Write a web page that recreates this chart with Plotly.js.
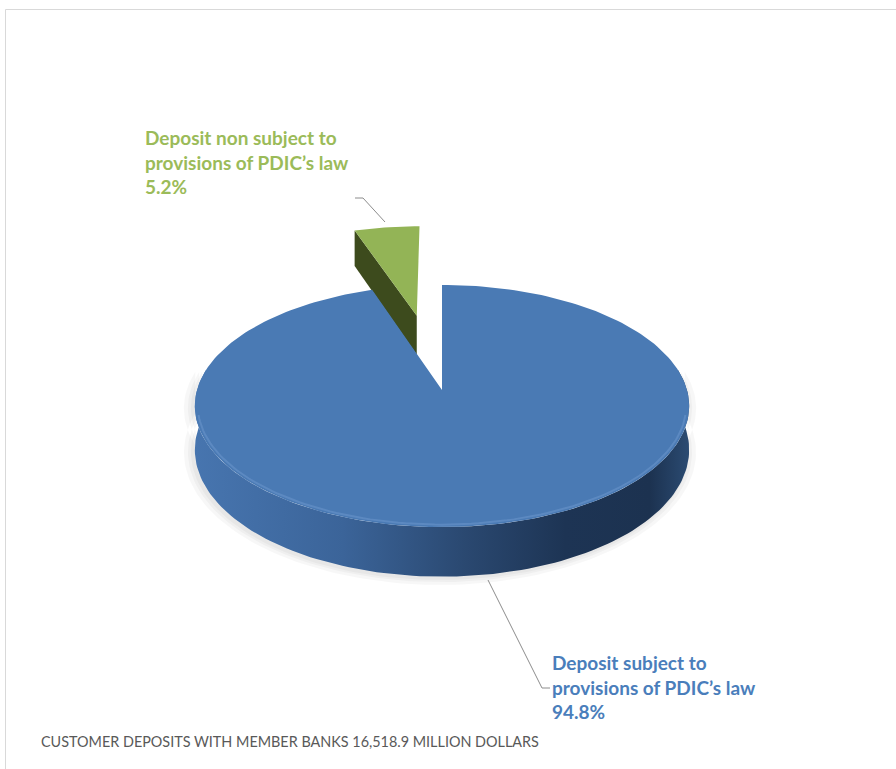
<!DOCTYPE html>
<html>
<head>
<meta charset="utf-8">
<script src="https://cdn.plot.ly/plotly-3.0.1.min.js"></script>
<style>html,body{margin:0;padding:0;background:#fff;}#chart{width:896px;height:769px;}</style>
</head>
<body>
<div id="chart"></div>
<script>
// ---- data ----
const categories = ["Deposit subject to provisions of PDIC’s law", "Deposit non subject to provisions of PDIC’s law"];
const labelLines = [["Deposit subject to", "provisions of PDIC’s law"], ["Deposit non subject to", "provisions of PDIC’s law"]];
const shares = [94.8, 5.2];
const footnote = "CUSTOMER DEPOSITS WITH MEMBER BANKS 16,518.9 MILLION DOLLARS";

// ---- styles / geometry ----
const topColors = ["#4a7ab4", "#93b456"];
const sideGradients = [
  [[0, "#4775af"], [0.3, "#3b6499"], [0.55, "#2a4870"], [0.75, "#1d3454"], [0.92, "#1c3250"], [1, "#2b4b72"]],
  [[0, "#3d4b1d"], [1, "#3d4b1d"]]
];
const G = {cx: 442, cy: 390, rx: 245, ry: 119, k: 0.132, depth: 43, explode: [0, 0.69]};

// perspective projection of a point in the pie plane (X right, Y toward viewer), dz = drop below top
function proj(X, Y, dz) {
  const p = 1 / (1 - G.k * Y);
  return [G.cx + G.rx * X * p, G.cy + (G.ry * Y + dz) * p];
}
function pt(theta, off, dz) {
  const t = theta * Math.PI / 180;
  return proj(off[0] + Math.sin(t), off[1] - Math.cos(t), dz);
}
function apex(off, dz) { return proj(off[0], off[1], dz); }
function arc(a0, a1, off, dz) {
  const pts = [];
  const n = Math.max(2, Math.ceil(Math.abs(a1 - a0) / 1.5));
  for (let i = 0; i <= n; i++) pts.push(pt(a0 + (a1 - a0) * i / n, off, dz));
  return pts;
}
function poly(pts, extra) {
  return Object.assign({
    type: "scatter", mode: "lines", x: pts.map(p => p[0]), y: pts.map(p => p[1]),
    fill: "toself", line: {width: 0}, hoverinfo: "skip", showlegend: false
  }, extra);
}

const total = shares.reduce((a, b) => a + b, 0);
const slices = [];
let acc = 0;
shares.forEach((v, i) => {
  const a0 = acc / total * 360, a1 = (acc + v) / total * 360;
  acc += v;
  const mid = (a0 + a1) / 2 * Math.PI / 180;
  const e = G.explode[i];
  slices.push({a0, a1, off: [e * Math.sin(mid), -e * Math.cos(mid)], i});
});

const traces = [];
const s0 = slices[0], s1 = slices[1];

// soft shadow below / left of the big slice
[9, 5, 2].forEach(g => {
  const up = arc(80, 280, s0.off, 0), lo = arc(280, 80, s0.off, G.depth);
  const c = apex(s0.off, G.depth / 2);
  const pts = up.concat(lo, [up[0]]).map(p => {
    const dx = p[0] - c[0], dy = p[1] - c[1], d = Math.hypot(dx, dy);
    return [p[0] + dx / d * g - 2, p[1] + Math.max(0, dy / d) * g * 0.7 + 2];
  });
  traces.push(poly(pts, {fillcolor: "rgba(0,0,0,0.03)"}));
});

// green (small, exploded) slice: its visible cut face then its top
{
  const A = apex(s1.off, 0), R = pt(s1.a0, s1.off, 0);
  const R2 = pt(s1.a0, s1.off, G.depth), A2 = apex(s1.off, G.depth);
  traces.push(poly([A, R, R2, A2, A], {fillcolor: sideGradients[1][0][1]}));
  const top = [A].concat(arc(s1.a0, s1.a1, s1.off, 0), [A]);
  traces.push(poly(top, {fillcolor: topColors[1], name: categories[1]}));
}
// blue slice: front side, then top
{
  const upper = arc(80, 280, s0.off, 0);
  const lower = arc(280, 80, s0.off, G.depth);
  traces.push(poly(upper.concat(lower, [upper[0]]),
    {fillcolor: "#2a4870", fillgradient: {type: "horizontal", colorscale: sideGradients[0]}}));
  const A = apex(s0.off, 0);
  const top = [A].concat(arc(s0.a0, s0.a1, s0.off, 0), [A]);
  traces.push(poly(top, {fillcolor: topColors[0], name: categories[0]}));
  // subtle bevel highlight on the front rim
  const rim = arc(102, 258, s0.off, 0).map(p => [G.cx + (p[0] - G.cx) * 0.988, G.cy + (p[1] - G.cy) * 0.982]);
  traces.push({type: "scatter", mode: "lines", x: rim.map(p => p[0]), y: rim.map(p => p[1]),
    line: {color: "rgba(125,165,218,0.35)", width: 2}, hoverinfo: "skip", showlegend: false});
}

const pctText = shares.map(v => v.toFixed(1) + "%");
const labelColors = ["#4a7ebb", "#9bbb59"];
const labelFont = "Lato, 'Open Sans', sans-serif";

const annotations = [
  {x: 143, y: 124, xref: "x", yref: "y", xanchor: "left", yanchor: "top", align: "left", showarrow: false,
   text: "<b>" + labelLines[1].concat([pctText[1]]).join("<br>") + "</b>",
   font: {family: labelFont, size: 19, color: labelColors[1]}},
  {x: 550, y: 649, xref: "x", yref: "y", xanchor: "left", yanchor: "top", align: "left", showarrow: false,
   text: "<b>" + labelLines[0].concat([pctText[0]]).join("<br>") + "</b>",
   font: {family: labelFont, size: 19, color: labelColors[0]}},
  {x: 39, y: 741, xref: "x", yref: "y", xanchor: "left", yanchor: "middle", align: "left", showarrow: false,
   text: footnote, font: {family: labelFont, size: 14.4, color: "#595959"}}
];

const shapes = [
  {type: "rect", xref: "x", yref: "y", x0: 5.5, y0: 9.5, x1: 910, y1: 790, line: {color: "#d9d9d9", width: 1}, layer: "below"},
  {type: "path", xref: "x", yref: "y", path: "M 355 198 L 363 198 L 385 222", line: {color: "#8c8c8c", width: 1}},
  {type: "path", xref: "x", yref: "y", path: "M 488 580 L 542 688 L 550 688", line: {color: "#8c8c8c", width: 1}}
];

const layout = {
  width: 896, height: 769, margin: {l: 0, r: 0, t: 0, b: 0},
  paper_bgcolor: "#ffffff", plot_bgcolor: "#ffffff", showlegend: false,
  xaxis: {range: [0, 896], visible: false, fixedrange: true},
  yaxis: {range: [769, 0], visible: false, fixedrange: true},
  annotations, shapes
};
Plotly.newPlot("chart", traces, layout, {displayModeBar: false, staticPlot: true});
</script>
</body>
</html>
